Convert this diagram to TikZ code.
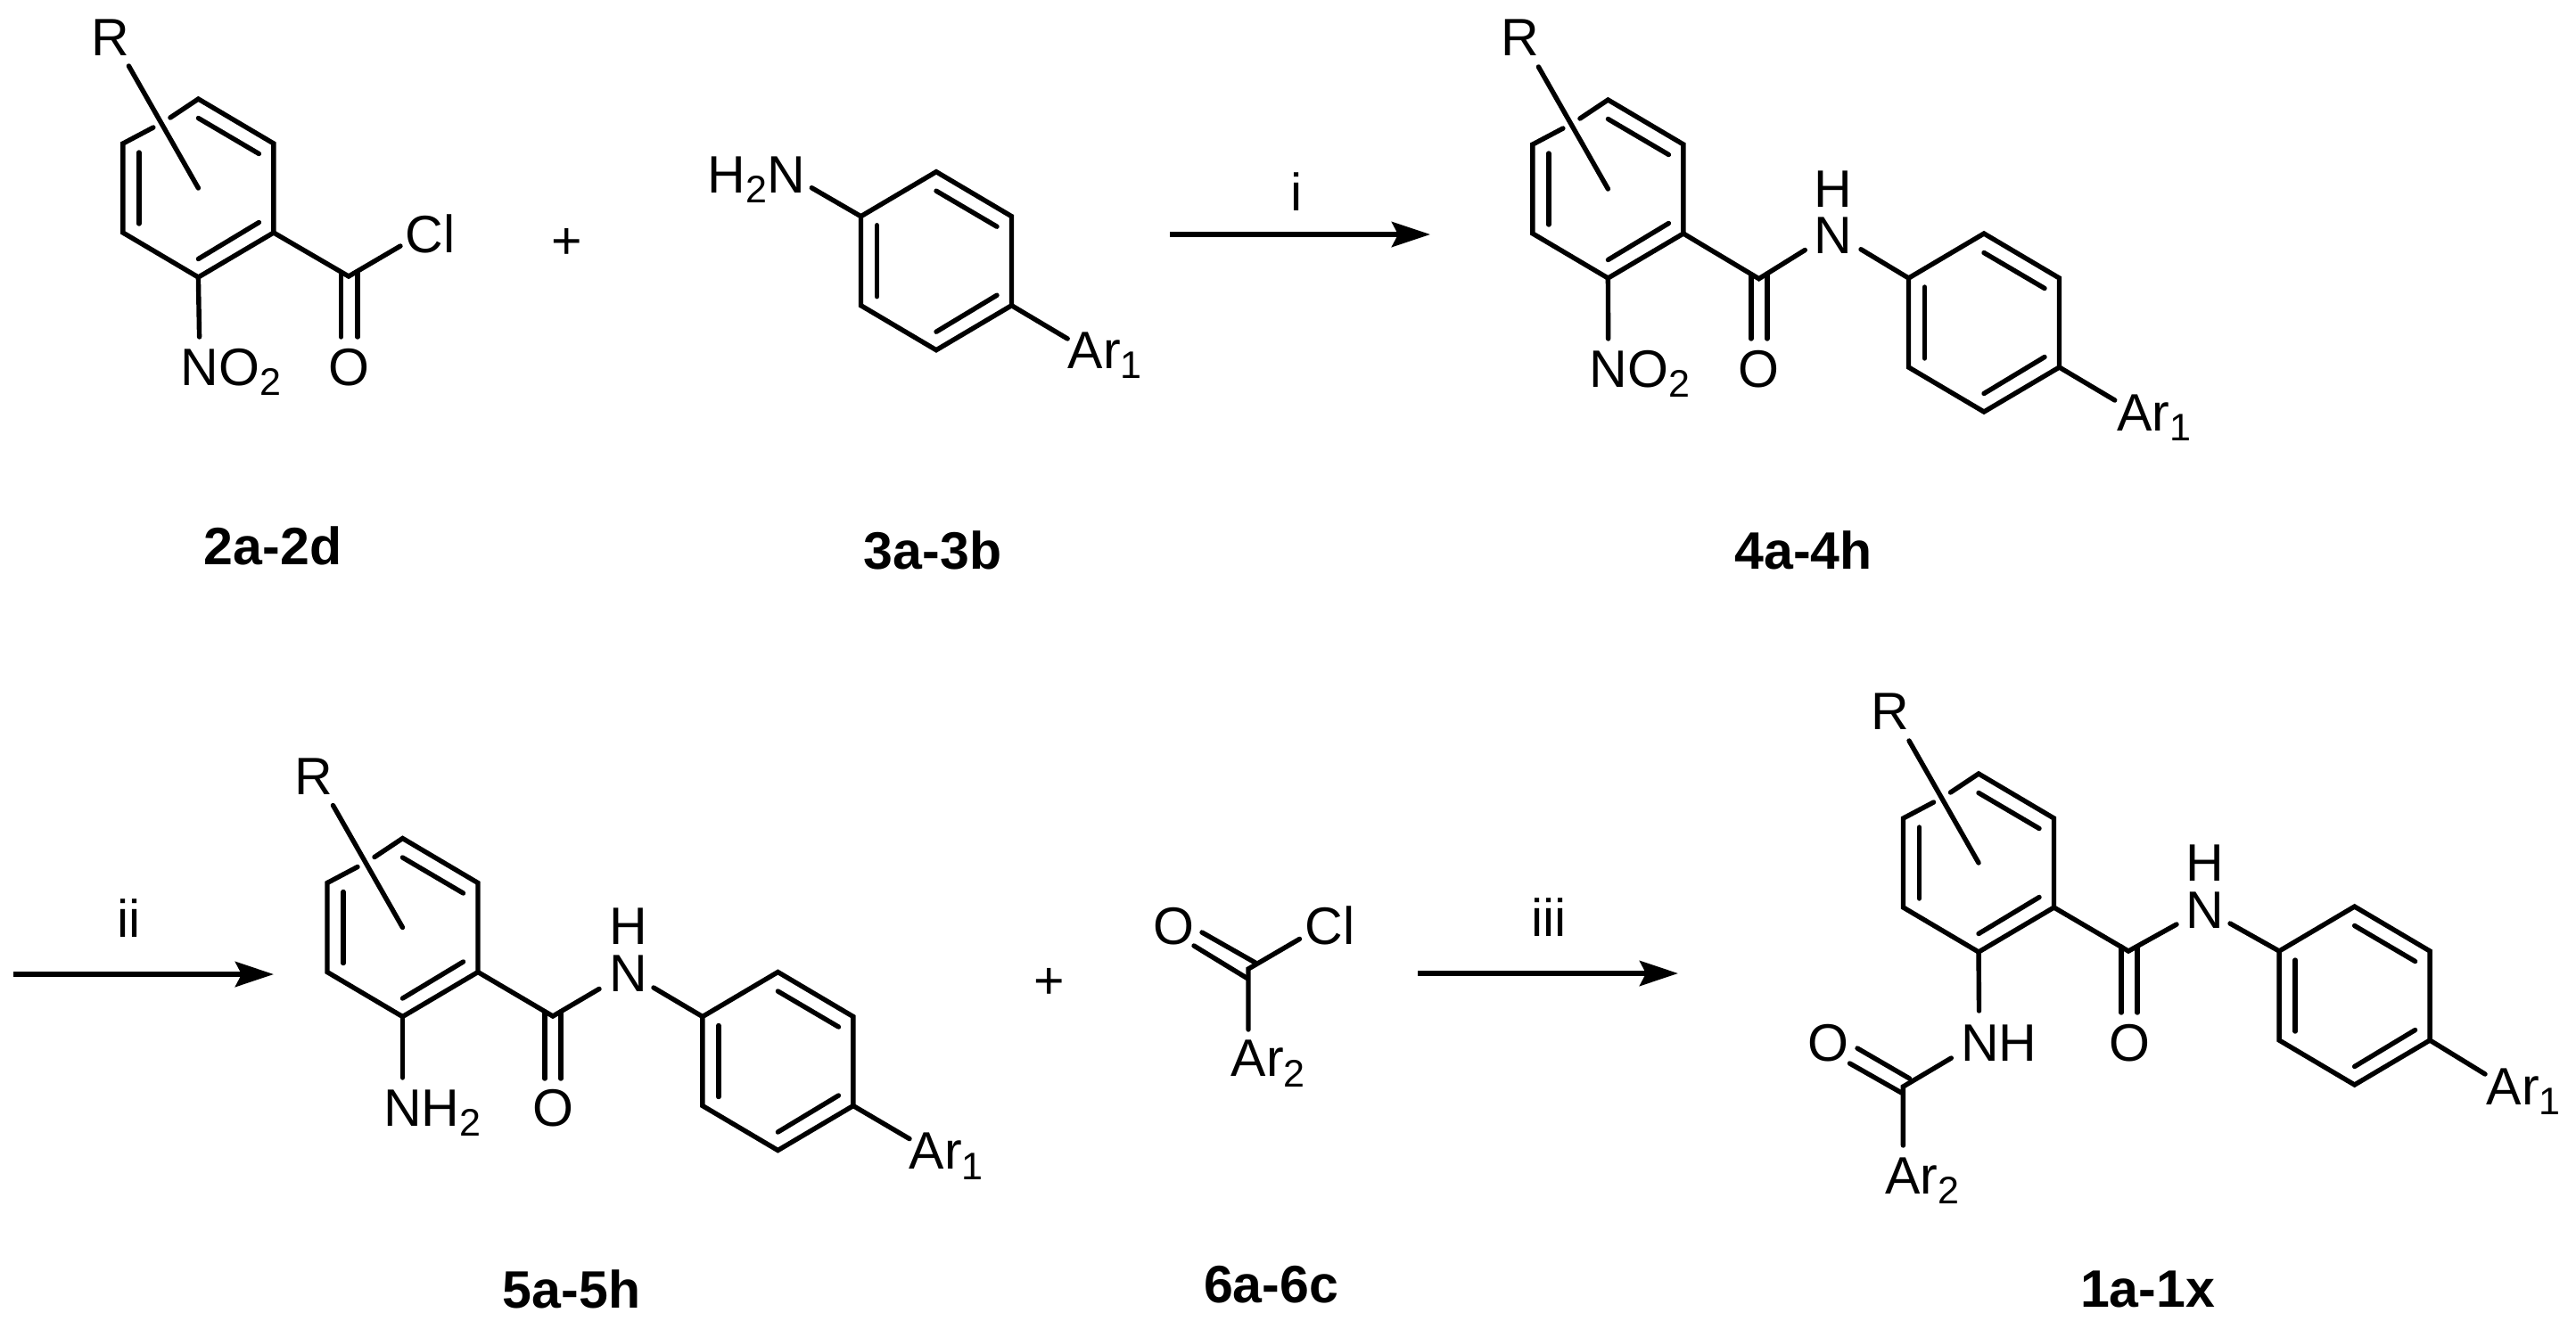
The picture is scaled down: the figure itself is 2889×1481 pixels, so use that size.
\documentclass[tikz,border=0pt]{standalone}
\usepackage{fontspec}
\setmainfont{Liberation Sans}
\usetikzlibrary{arrows.meta}
\newcommand{\atomfont}{\fontsize{16.79pt}{20pt}\selectfont}
\newcommand{\labelfont}{\fontsize{16.79pt}{20pt}\selectfont\bfseries}
\newcommand{\chemsub}[1]{\raisebox{-0.115cm}{\fontsize{12.24pt}{14pt}\selectfont #1}}
\tikzset{
  x=0.01cm,y=-0.01cm,
  bond/.style={line width=0.054cm,line cap=round,line join=miter,black},
  rxn/.style={line width=0.062cm,black,-{Stealth[length=0.43cm,width=0.28cm,inset=0.07cm]}},
  atom/.style={inner sep=0pt,anchor=base west,font=\atomfont,text=black},
  atomc/.style={inner sep=0pt,anchor=base,font=\atomfont,text=black},
  cmpd/.style={inner sep=0pt,anchor=base,font=\labelfont,text=black},
}
% benzene ring coordinates and its three inner double-bond lines
\newcommand{\ringcoords}[3]{%
  \begin{scope}[shift={(#2,#3)}]
    \coordinate (#1c) at (0,0);
    \coordinate (#1t) at (0,-100);
    \coordinate (#1ur) at (84.5,-50);
    \coordinate (#1lr) at (84.5,50);
    \coordinate (#1b) at (0,100);
    \coordinate (#1ll) at (-84.5,50);
    \coordinate (#1ul) at (-84.5,-50);
    \coordinate (#1ia) at (-66.5,-40);
    \coordinate (#1ib) at (-66.5,40);
    \coordinate (#1ic) at (0,-78.5);
    \coordinate (#1id) at (68,-38.5);
    \coordinate (#1ie) at (0,79.5);
    \coordinate (#1if) at (68,38.5);
    \coordinate (#1ga) at (-50.5,-68);
    \coordinate (#1gb) at (-31.5,-79);
    \coordinate (#1rb) at (-78,-137);
  \end{scope}
  \draw[bond] (#1ia) -- (#1ib);
  \draw[bond] (#1ic) -- (#1id);
  \draw[bond] (#1ie) -- (#1if);
}
\newcommand{\plainring}[3]{%
  \ringcoords{#1}{#2}{#3}
  \draw[bond] (#1t) -- (#1ur) -- (#1lr) -- (#1b) -- (#1ll) -- (#1ul) -- cycle;
}
\newcommand{\rring}[3]{%
  \ringcoords{#1}{#2}{#3}
  \draw[bond] (#1gb) -- (#1t) -- (#1ur) -- (#1lr) -- (#1b) -- (#1ll) -- (#1ul) -- (#1ga);
  \draw[bond] (#1rb) -- (#1c);
}
\begin{document}
\begin{tikzpicture}
\useasboundingbox (0,0) rectangle (2889,1481);

% ---------- 2a-2d ----------
\rring{a}{222.4}{211}
\node[atom] (aR) at (102,62) {R};
\node[atom] (aNO) at (202,432) {NO\chemsub{2}};
\node[atomc] (aO) at (391,432) {O};
\node[atom] (aCl) at (454,283) {Cl};
\coordinate (aC) at (391,310);
\coordinate (aNe) at (223.6,378);
\coordinate (aCle) at (449,276);
\coordinate (aOa) at (382.5,378);
\coordinate (aOb) at (401,378);
\coordinate (aCa) at (382.5,306);
\coordinate (aCb) at (401,305);
\draw[bond] (ab) -- (aNe);
\draw[bond] (alr) -- (aC) -- (aCle);
\draw[bond] (aCa) -- (aOa);
\draw[bond] (aCb) -- (aOb);
\node[cmpd] (l2) at (306,633) {2a-2d};
\node[atomc] (p1) at (636,290) {+};

% ---------- 3a-3b ----------
\plainring{b}{1050}{292.7}
\node[atom] (bN) at (793,216) {H\chemsub{2}N};
\node[atom] (bAr) at (1197,413) {Ar\chemsub{1}};
\coordinate (bNe) at (910.3,210.7);
\coordinate (bAe) at (1197.2,380);
\draw[bond] (bul) -- (bNe);
\draw[bond] (blr) -- (bAe);
\node[cmpd] (l3) at (1046,638) {3a-3b};

% ---------- arrow i ----------
\coordinate (ai) at (1312,263);
\coordinate (bi) at (1604,263);
\draw[rxn] (ai) -- (bi);
\node[atomc] (ti) at (1454,236) {i};

% ---------- 4a-4h ----------
\rring{c}{1803.4}{212}
\plainring{d}{2225}{362}
\node[atom] (cR) at (1683,62) {R};
\node[atom] (cNO) at (1782,434) {NO\chemsub{2}};
\node[atomc] (cO) at (1972,434) {O};
\node[atomc] (cH) at (2056,232) {H};
\node[atomc] (cN) at (2056,284) {N};
\node[atom] (cAr) at (2373.5,483) {Ar\chemsub{1}};
\coordinate (cC) at (1972.6,312.7);
\coordinate (cNe) at (1803.6,380);
\coordinate (cOa) at (1963.8,380);
\coordinate (cOb) at (1981.8,380);
\coordinate (cCa) at (1963.8,308);
\coordinate (cCb) at (1981.8,307);
\coordinate (cNl) at (2024.3,280.5);
\coordinate (cNr) at (2087,279.7);
\coordinate (cAe) at (2371.7,449);
\draw[bond] (cb) -- (cNe);
\draw[bond] (clr) -- (cC) -- (cNl);
\draw[bond] (cCa) -- (cOa);
\draw[bond] (cCb) -- (cOb);
\draw[bond] (cNr) -- (dul);
\draw[bond] (dlr) -- (cAe);
\node[cmpd] (l4) at (2022.5,638.5) {4a-4h};

% ---------- arrow ii ----------
\coordinate (aii) at (15,1093);
\coordinate (bii) at (307,1093);
\draw[rxn] (aii) -- (bii);
\node[atomc] (tii) at (145,1051) {ii};

% ---------- 5a-5h ----------
\rring{e}{451.5}{1040.5}
\plainring{f}{872.4}{1190.5}
\node[atom] (eR) at (330,891) {R};
\node[atom] (eN) at (429.5,1263) {NH\chemsub{2}};
\node[atomc] (eO) at (620,1263) {O};
\node[atomc] (eH) at (705,1059) {H};
\node[atomc] (eNN) at (705,1112) {N};
\node[atom] (eAr) at (1019,1311.5) {Ar\chemsub{1}};
\coordinate (eC) at (620,1140);
\coordinate (eNe) at (451.5,1209);
\coordinate (eOa) at (611,1210);
\coordinate (eOb) at (629,1210);
\coordinate (eCa) at (611,1135);
\coordinate (eCb) at (629,1135);
\coordinate (eNl) at (672,1109.4);
\coordinate (eNr) at (733,1108);
\coordinate (eAe) at (1020,1277.6);
\draw[bond] (eb) -- (eNe);
\draw[bond] (elr) -- (eC) -- (eNl);
\draw[bond] (eCa) -- (eOa);
\draw[bond] (eCb) -- (eOb);
\draw[bond] (eNr) -- (ful);
\draw[bond] (flr) -- (eAe);
\node[cmpd] (l5) at (641,1467) {5a-5h};
\node[atomc] (p2) at (1177,1120) {+};

% ---------- 6a-6c ----------
\coordinate (gC) at (1400,1087);
\node[atomc] (gO) at (1316,1059) {O};
\node[atom] (gCl) at (1463,1059) {Cl};
\node[atom] (gAr) at (1380,1207.5) {Ar\chemsub{2}};
\coordinate (gCle) at (1457.5,1053.4);
\coordinate (gAe) at (1400,1155);
\coordinate (gOa) at (1348,1046);
\coordinate (gCa) at (1408.7,1080.5);
\coordinate (gOb) at (1339,1061);
\coordinate (gCb) at (1398.7,1097.5);
\draw[bond] (gAe) -- (gC) -- (gCle);
\draw[bond] (gOa) -- (gCa);
\draw[bond] (gOb) -- (gCb);
\node[cmpd] (l6) at (1425.6,1461) {6a-6c};

% ---------- arrow iii ----------
\coordinate (aiii) at (1590,1092);
\coordinate (biii) at (1882,1092);
\draw[rxn] (aiii) -- (biii);
\node[atomc] (tiii) at (1737,1050) {iii};

% ---------- 1a-1x ----------
\rring{h}{2219}{968}
\plainring{j}{2640.6}{1117}
\node[atom] (hR) at (2098,818) {R};
\node[atom] (hNH) at (2198.5,1190) {NH};
\node[atomc] (hO) at (2388,1190) {O};
\node[atomc] (hH) at (2472.5,988.5) {H};
\node[atomc] (hN) at (2472.5,1041.5) {N};
\node[atom] (hAr) at (2788,1239) {Ar\chemsub{1}};
\node[atomc] (kO) at (2050,1190) {O};
\node[atom] (kAr) at (2113.5,1339) {Ar\chemsub{2}};
\coordinate (hC) at (2387,1067);
\coordinate (hNe) at (2219.5,1134);
\coordinate (hOa) at (2379,1136);
\coordinate (hOb) at (2397,1136);
\coordinate (hCa) at (2379,1062);
\coordinate (hCb) at (2397,1062);
\coordinate (hNl) at (2441,1037);
\coordinate (hNr) at (2501,1036);
\coordinate (hAe) at (2787,1205);
\coordinate (kC) at (2134.4,1219);
\coordinate (kNe) at (2188.3,1187);
\coordinate (kAe) at (2134.4,1285);
\coordinate (kOa) at (2083,1176);
\coordinate (kCa) at (2141.6,1210);
\coordinate (kOb) at (2074.5,1193);
\coordinate (kCb) at (2132.6,1226);
\draw[bond] (hb) -- (hNe);
\draw[bond] (hlr) -- (hC) -- (hNl);
\draw[bond] (hCa) -- (hOa);
\draw[bond] (hCb) -- (hOb);
\draw[bond] (hNr) -- (jul);
\draw[bond] (jlr) -- (hAe);
\draw[bond] (kNe) -- (kC) -- (kAe);
\draw[bond] (kOa) -- (kCa);
\draw[bond] (kOb) -- (kCb);
\node[cmpd] (l1) at (2408.5,1466.5) {1a-1x};
\end{tikzpicture}
\end{document}
